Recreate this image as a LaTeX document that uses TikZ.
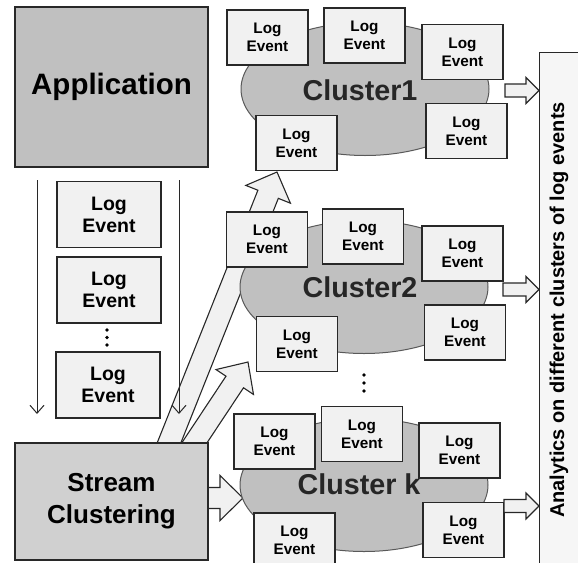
\documentclass[tikz,border=0pt]{standalone}
\usepackage{fontspec}
\setmainfont{Liberation Sans}
\usetikzlibrary{shapes.geometric,arrows.meta,calc}

\definecolor{appgray}{HTML}{C0C0C0}
\definecolor{streamgray}{HTML}{D0D0D0}
\definecolor{clustergray}{HTML}{C0C0C0}
\definecolor{eventfill}{HTML}{F1F1F1}
\definecolor{panelfill}{HTML}{F6F6F6}
\definecolor{edge}{HTML}{282828}

% block arrow: [style] {start} {tip} {shaft half-width} {head half-width} {head length}
\newcommand\blockarrow[6][]{%
  \path (#2) coordinate (ba-s) (#3) coordinate (ba-t);
  \path ($(ba-t)!#6!(ba-s)$) coordinate (ba-h);
  \draw[blockarrow,#1]
    ($(ba-s)!#4!90:(ba-t)$) -- ($(ba-h)!#4!-90:(ba-s)$) -- ($(ba-h)!#5!-90:(ba-s)$)
    -- (ba-t) -- ($(ba-h)!#5!90:(ba-s)$) -- ($(ba-h)!#4!90:(ba-s)$)
    -- ($(ba-s)!#4!-90:(ba-t)$) -- cycle;
}

\begin{document}
\begin{tikzpicture}[x=1pt,y=-1pt,
  bigbox/.style={draw=edge, line width=1.4pt, inner sep=0pt, align=center,
    font=\bfseries},
  eventbig/.style={draw=edge, fill=eventfill, line width=1.4pt, inner sep=0pt,
    minimum width=104pt, minimum height=66pt, align=center,
    font=\fontsize{19.5}{22}\selectfont\bfseries},
  event/.style={draw=edge, fill=eventfill, line width=1.3pt, inner sep=0pt,
    minimum width=81pt, minimum height=55pt, align=center,
    font=\fontsize{15.3}{18}\selectfont\bfseries},
  cluster/.style={ellipse, draw=black!65, fill=clustergray, line width=1pt,
    inner sep=0pt, minimum width=248pt, minimum height=133pt},
  clabel/.style={text=black!85, inner sep=0pt,
    font=\fontsize{28.7}{30}\selectfont\bfseries},
  blockarrow/.style={draw=edge, fill=eventfill, line width=1.1pt, line join=miter},
  flow/.style={draw=edge, line width=1pt, -{Straight Barb[length=8pt,width=14pt]}},
  dot/.style={circle, fill=black, inner sep=0pt, minimum size=3.8pt},
]
\useasboundingbox (0,0) rectangle (578,562);

% source and clustering stage
\node[bigbox, fill=appgray, minimum width=193pt, minimum height=160pt,
  font=\fontsize{29.5}{32}\selectfont\bfseries] (app) at (111.5,87) {Application};

% block arrows leaving the clustering stage (drawn under everything else)
\coordinate (a1s) at (161,463);   \coordinate (a1t) at (277,172);
\coordinate (a2s) at (183,460);   \coordinate (a2t) at (248,362);
\coordinate (a3s) at (200,498);   \coordinate (a3t) at (243,498);
\blockarrow{a1s}{a1t}{11pt}{24pt}{24pt}
\blockarrow{a2s}{a2t}{10.5pt}{22.5pt}{24pt}
\blockarrow{a3s}{a3t}{10.5pt}{22.5pt}{23pt}

\node[bigbox, fill=streamgray, minimum width=193pt, minimum height=117pt,
  font=\fontsize{26}{32}\selectfont\bfseries] (sc) at (111.5,501.5) {Stream\\Clustering};

% incoming stream of log events
\node[eventbig] (l1) at (109,214.5) {Log\\Event};
\node[eventbig] (l2) at (109,290) {Log\\Event};
\node[eventbig] (l3) at (108,385) {Log\\Event};
\node[dot] (ld1) at (107,330) {};
\node[dot] (ld2) at (107,337.5) {};
\node[dot] (ld3) at (107,345) {};

\coordinate (fL0) at (37,180);  \coordinate (fL1) at (37,414);
\coordinate (fR0) at (179,180); \coordinate (fR1) at (179,414);
\draw[flow] (fL0) -- (fL1);
\draw[flow] (fR0) -- (fR1);

% analytics panel
\node[draw=edge, fill=panelfill, line width=1.2pt, anchor=north west,
  minimum width=60pt, minimum height=540pt, inner sep=0pt] (ana) at (539,52) {};
\node[rotate=90, inner sep=0pt, font=\fontsize{20}{22}\selectfont\bfseries]
  (analabel) at (559,310) {Analytics on different clusters of log events};

% cluster 1
\node[cluster] (c1) at (365,89) {};
\node[clabel] (c1t) at (360,90) {Cluster1};
\node[event] (c1a) at (267.5,37.5) {Log\\Event};
\node[event] (c1b) at (364.5,35.5) {Log\\Event};
\node[event] (c1c) at (462.5,52) {Log\\Event};
\node[event] (c1d) at (296.5,143) {Log\\Event};
\node[event] (c1e) at (466.5,131) {Log\\Event};

% cluster 2
\node[cluster] (c2) at (364,287) {};
\node[clabel] (c2t) at (360,287) {Cluster2};
\node[event] (c2a) at (267,239.5) {Log\\Event};
\node[event] (c2b) at (363,236.5) {Log\\Event};
\node[event] (c2c) at (462.5,253.5) {Log\\Event};
\node[event] (c2d) at (297,344) {Log\\Event};
\node[event] (c2e) at (465,332.5) {Log\\Event};

\node[dot] (cd1) at (364,375) {};
\node[dot] (cd2) at (364,383) {};
\node[dot] (cd3) at (364,391) {};

% cluster k
\node[cluster] (ck) at (364,485) {};
\node[clabel] (ckt) at (359,484) {Cluster k};
\node[event] (cka) at (274.5,441.5) {Log\\Event};
\node[event] (ckb) at (362,434) {Log\\Event};
\node[event] (ckc) at (459.5,450.5) {Log\\Event};
\node[event] (ckd) at (294.5,540.5) {Log\\Event};
\node[event] (cke) at (463.5,530) {Log\\Event};

% results handed to the analytics panel
\coordinate (r1s) at (505,90.5);
\coordinate (r2s) at (503,289.5);
\coordinate (r3s) at (504,506);
\blockarrow{r1s}{ana.west |- r1s}{6.5pt}{13pt}{13pt}
\blockarrow{r2s}{ana.west |- r2s}{6.5pt}{13pt}{13pt}
\blockarrow{r3s}{ana.west |- r3s}{6.5pt}{13pt}{13pt}
\end{tikzpicture}
\end{document}
